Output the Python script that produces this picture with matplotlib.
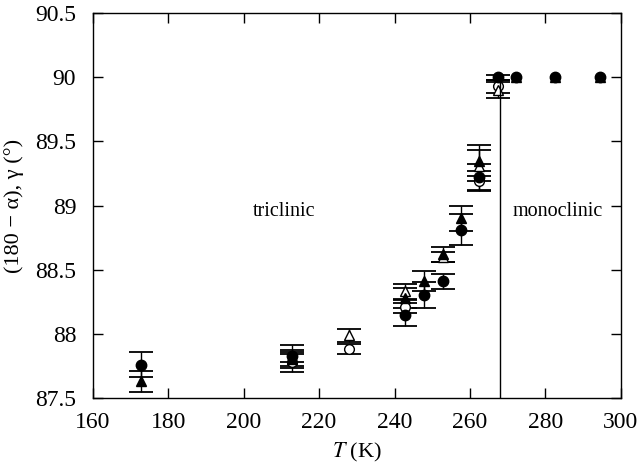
import matplotlib.pyplot as plt
import numpy as np

plt.rcParams['font.family'] = ['Liberation Serif', 'DejaVu Serif']
plt.rcParams['mathtext.fontset'] = 'stix'

# gamma, filled circles
T_fc = [172.9, 212.9, 242.9, 247.8, 252.8, 257.7, 262.5, 267.5, 272.3, 282.5, 294.6]
y_fc = [87.76, 87.83, 88.15, 88.30, 88.41, 88.81, 89.22, 90.00, 90.00, 90.00, 90.00]
e_fc = [0.10, 0.08, 0.09, 0.10, 0.06, 0.12, 0.10, 0.02, 0.0, 0.0, 0.0]

# 180 - alpha, filled triangles
T_ft = [172.9, 212.9, 242.9, 247.8, 252.8, 257.7, 262.5, 272.3, 282.5, 294.6]
y_ft = [87.63, 87.80, 88.28, 88.41, 88.62, 88.90, 89.35, 90.00, 90.00, 90.00]
e_ft = [0.08, 0.07, 0.08, 0.08, 0.06, 0.10, 0.12, 0.0, 0.0, 0.0]

# open circles
T_oc = [212.9, 227.8, 242.9, 262.5, 267.5]
y_oc = [87.78, 87.88, 88.21, 89.19, 89.93]
e_oc = [0.08, 0.04, 0.05, 0.08, 0.05]

# open triangles
T_ot = [212.9, 227.8, 242.9, 252.8, 262.5, 267.5]
y_ot = [87.81, 87.99, 88.33, 88.60, 89.31, 89.90]
e_ot = [0.03, 0.05, 0.06, 0.04, 0.12, 0.06]

T_transition = 267.9

fig = plt.figure(figsize=(6.4, 4.66), dpi=100)
ax = fig.add_axes([0.145, 0.146, 0.825, 0.826])

eb = dict(fmt='none', ecolor='black', elinewidth=1.0, capsize=8.5, capthick=1.3)
for T, y, e in [(T_fc, y_fc, e_fc), (T_ft, y_ft, e_ft),
                (T_oc, y_oc, e_oc), (T_ot, y_ot, e_ot)]:
    # skip points without error bars (high-T monoclinic ones)
    keep = [i for i in range(len(T)) if e[i] > 0]
    ax.errorbar([T[i] for i in keep], [y[i] for i in keep],
                yerr=[e[i] for i in keep], **eb)

ax.plot(T_oc, y_oc, 'o', mfc='white', mec='black', ms=7, mew=1.0)
ax.plot(T_ot, y_ot, '^', mfc='white', mec='black', ms=7, mew=1.0)
ax.plot(T_ft, y_ft, '^', color='black', ms=7)
ax.plot(T_fc, y_fc, 'o', color='black', ms=7.5)

ax.axvline(T_transition, ymin=0, ymax=(90.0 - 87.5) / 3.0, color='black', lw=1.0)

ax.text(202.5, 88.95, 'triclinic', fontsize=14.5, va='center')
ax.text(271.3, 88.95, 'monoclinic', fontsize=14.5, va='center')

ax.set_xlim(160, 300)
ax.set_ylim(87.5, 90.5)
ax.set_xticks(np.arange(160, 301, 20))
ax.set_yticks([87.5, 88, 88.5, 89, 89.5, 90, 90.5])
ax.set_yticklabels(['87.5', '88', '88.5', '89', '89.5', '90', '90.5'])
ax.tick_params(direction='in', length=7, width=1, labelsize=17,
               top=True, right=True)
ax.tick_params(axis='y', pad=12)
ax.tick_params(axis='x', pad=10)
for s in ax.spines.values():
    s.set_linewidth(1.0)

ax.set_xlabel('$T$ (K)', fontsize=16, labelpad=6)
ax.set_ylabel('(180 − α), γ (°)', fontsize=16, labelpad=8)

fig.savefig('out.png', dpi=100)
